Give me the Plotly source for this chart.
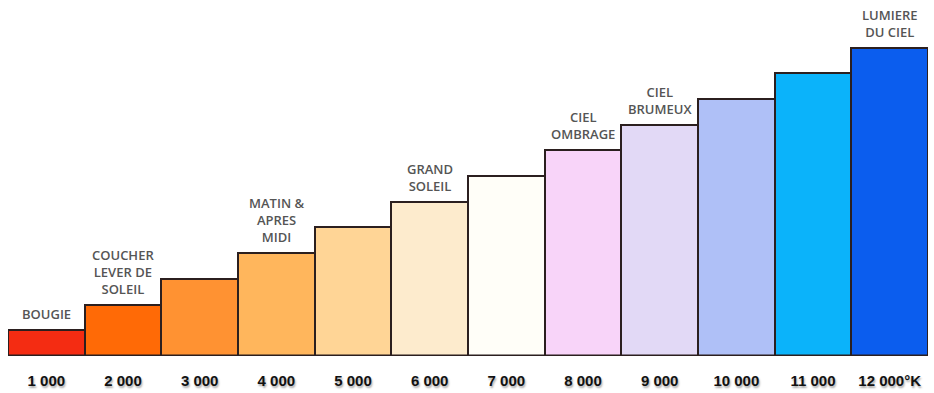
import plotly.graph_objects as go

categories = ["1 000", "2 000", "3 000", "4 000", "5 000", "6 000",
              "7 000", "8 000", "9 000", "10 000", "11 000", "12 000°K"]
kelvin = [1000, 2000, 3000, 4000, 5000, 6000, 7000, 8000, 9000, 10000, 11000, 12000]
colors = ["#F42C12", "#FF6A06", "#FF9232", "#FFB65C", "#FFD596", "#FDEBCD",
          "#FFFEF8", "#F8D4F9", "#E2D9F6", "#AFC0F7", "#0BB3FA", "#0B5DEE"]
label_cats = ["1 000", "2 000", "4 000", "6 000", "8 000", "9 000", "12 000°K"]
label_texts = ["BOUGIE", "COUCHER<br>LEVER DE<br>SOLEIL", "MATIN &<br>APRES<br>MIDI",
               "GRAND<br>SOLEIL", "CIEL<br>OMBRAGE", "CIEL<br>BRUMEUX", "LUMIERE<br>DU CIEL"]
label_values = [1000, 2000, 4000, 6000, 8000, 9000, 12000]

fig = go.Figure()
fig.add_trace(go.Bar(
    x=categories, y=kelvin,
    marker=dict(color=colors, line=dict(color="#2b1f1f", width=2)),
    hoverinfo="skip",
))

for c, t, v in zip(label_cats, label_texts, label_values):
    fig.add_annotation(
        x=c, y=v, text=t, showarrow=False, yanchor="bottom", yshift=5,
        font=dict(family="Open Sans", size=13, color="#555555", weight=600),
        align="center",
    )

fig.add_shape(type="line", xref="paper", yref="y", x0=0, x1=1, y0=0, y1=0,
              line=dict(color="#2b1f1f", width=3))

fig.update_layout(
    width=934, height=393,
    margin=dict(l=8, r=6, t=0, b=37),
    paper_bgcolor="white", plot_bgcolor="white",
    bargap=0, showlegend=False,
    xaxis=dict(showgrid=False, showline=False, zeroline=False, ticks="",
               tickfont=dict(family="Liberation Sans", size=15, color="#111111",
                             weight="bold", shadow="1px 2px 2px #aaaaaa"),
               ticklabelstandoff=14),
    yaxis=dict(range=[0, 13850], visible=False),
)

fig.write_html("out.html")
